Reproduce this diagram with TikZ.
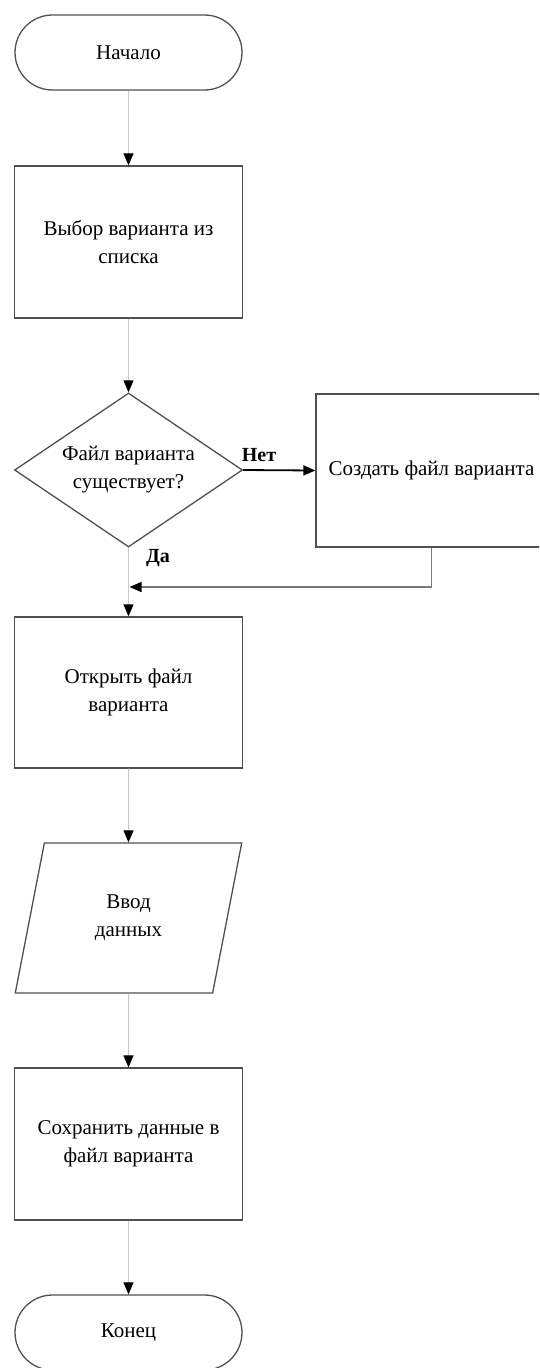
\documentclass[tikz,border=0pt]{standalone}
\usepackage{fontspec}
\setmainfont{Liberation Serif}
\usetikzlibrary{arrows.meta,shapes.geometric}
\definecolor{frameclr}{HTML}{505050}
\definecolor{flowclr}{HTML}{C8C8C8}
\definecolor{backclr}{HTML}{7A7A7A}
\begin{document}
\begin{tikzpicture}[x=1pt,y=-1pt,
  every node/.style={font=\fontsize{21}{28}\selectfont, align=center, inner sep=0pt, text=black},
  frame/.style={draw=frameclr, line width=1.3pt, fill=white},
  proc/.style={frame, rectangle, minimum width=228pt, minimum height=152pt},
  term/.style={frame, rectangle, rounded corners=37.5pt, minimum width=227pt, minimum height=75pt},
  decision/.style={frame, diamond, aspect=1.48, minimum width=228pt, minimum height=154pt},
  io/.style={frame, trapezium, trapezium left angle=75.8, trapezium right angle=104.2,
    trapezium stretches=true, minimum width=228pt, minimum height=150pt},
  tip/.style={-{Triangle[length=12pt,width=10pt,color=black]}},
  flow/.style={draw=flowclr, line width=1pt, tip},
  branch/.style={draw=black, line width=1.8pt, tip},
  back/.style={draw=backclr, line width=1.4pt, tip},
  note/.style={font=\fontsize{20}{24}\selectfont\bfseries}
]
\useasboundingbox (0,0) rectangle (539,1368);
\fill[white] (0,0) rectangle (539,1368);
\clip (0,0) rectangle (539,1368);

% blocks of the main column
\node[term] (start) at (128.5,52.5) {Начало};
\node[proc] (pick) at (128.5,242) {Выбор варианта из\\списка};
\node[decision] (exists) at (128.5,470) {Файл варианта\\существует?};
\node[proc, minimum width=231pt, minimum height=153pt] (create) at (431.5,470.5) {Создать файл варианта};
\node[proc, minimum height=151pt] (open) at (128.5,692.5) {Открыть файл\\варианта};
\node[io] (input) at (128.5,918) {Ввод\\данных};
\node[proc] (save) at (128.5,1144) {Сохранить данные в\\файл варианта};
\node[term] (stop) at (128.5,1332.5) {Конец};

% branch labels
\node[note] (no) at (259,455) {Нет};
\node[note] (yes) at (158,558) {Да};

% connectors
\draw[flow] (start.south) -- (pick.north);
\draw[flow] (pick.south) -- (exists.north);
\draw[branch] (exists.east) -- (create.west);
\draw[flow] (exists.south) -- (open.north);
\coordinate (join) at (129.5,587);
\draw[back] (create.south) |- (join);
\draw[flow] (open.south) -- (input.north);
\draw[flow] (input.south) -- (save.north);
\draw[flow] (save.south) -- (stop.north);
\end{tikzpicture}
\end{document}
